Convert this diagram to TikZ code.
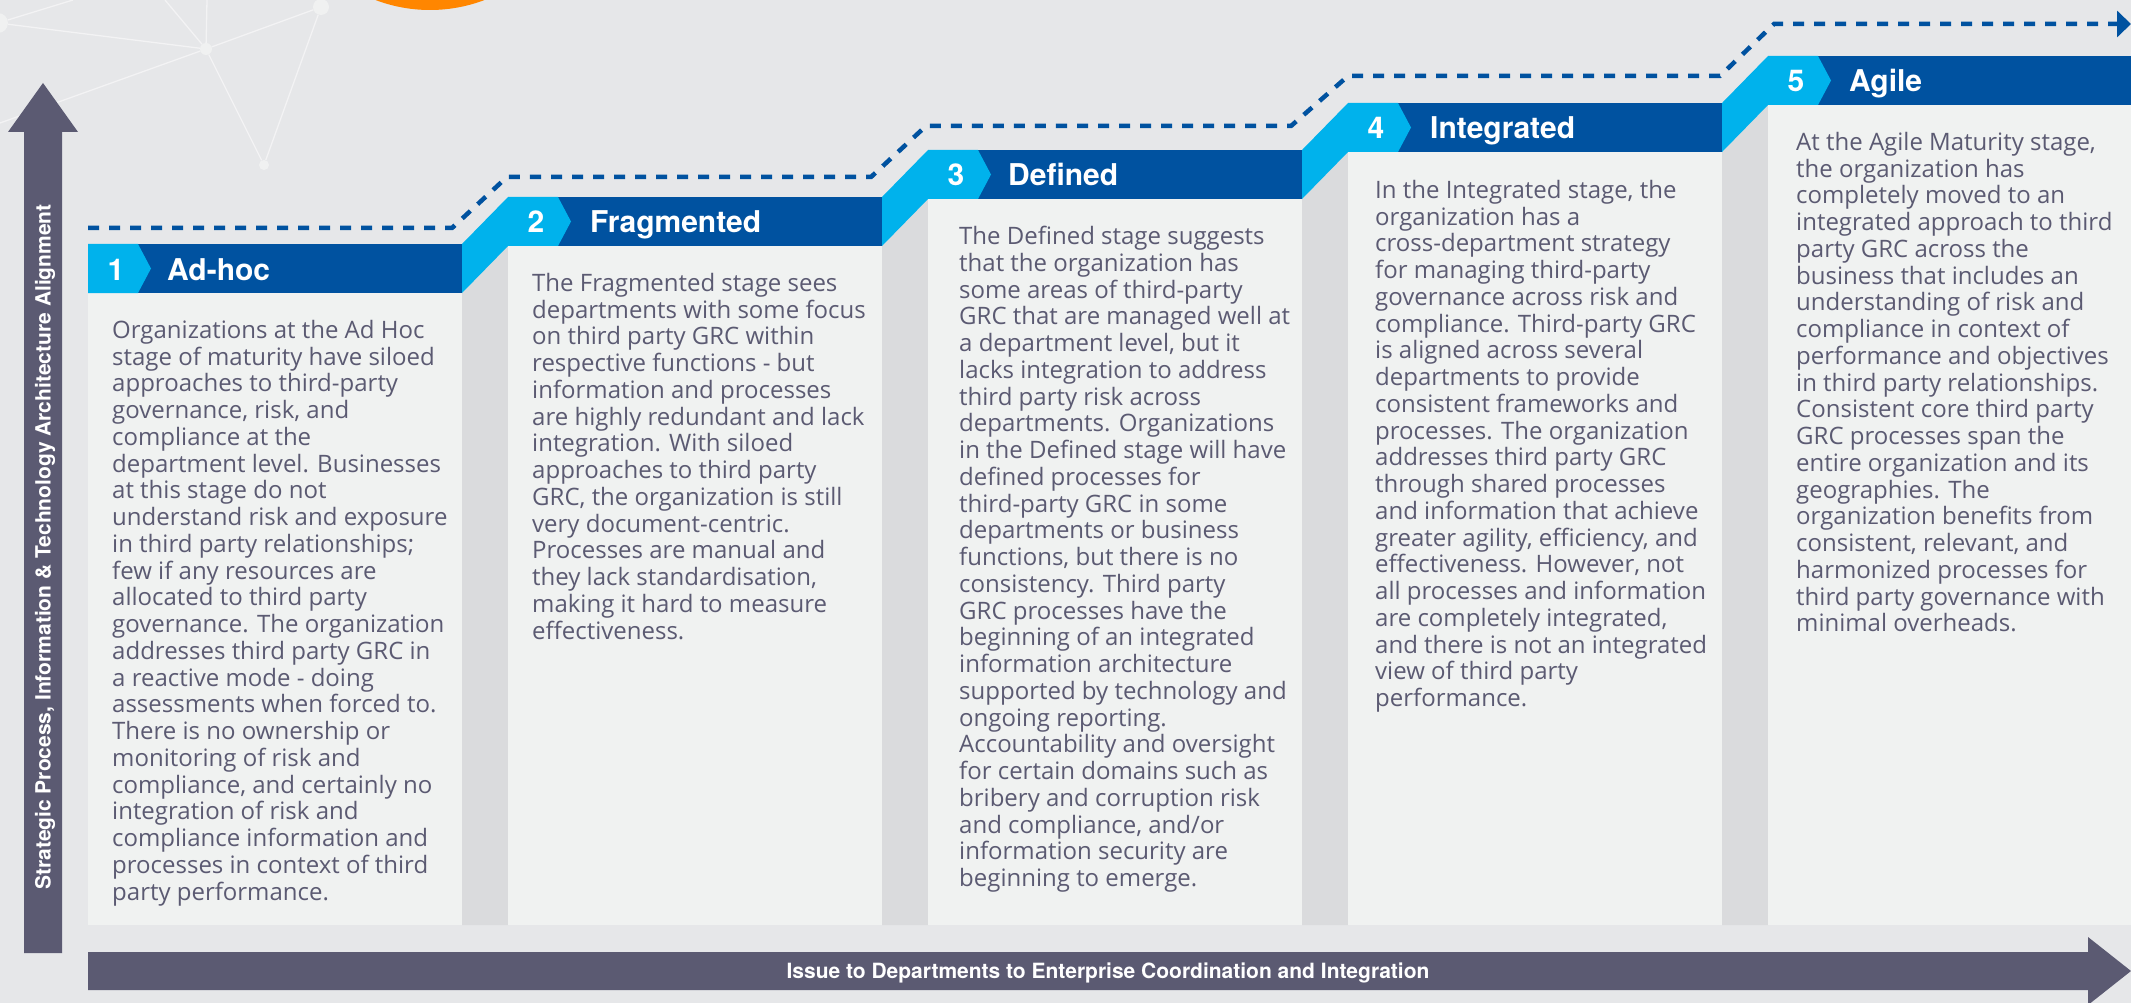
\documentclass[tikz,border=0pt]{standalone}
\usepackage{fontspec}
\setmainfont{Open Sans}
\newfontfamily\headfont{TeX Gyre Heros}
\usetikzlibrary{arrows.meta}

\definecolor{pagebg}{RGB}{230,231,233}
\definecolor{panelbg}{RGB}{240,242,241}
\definecolor{stripgray}{RGB}{218,219,221}
\definecolor{darkblue}{RGB}{0,82,160}
\definecolor{lightblue}{RGB}{0,178,236}
\definecolor{axisgray}{RGB}{91,90,114}
\definecolor{bodygray}{RGB}{91,90,114}
\definecolor{netline}{RGB}{243,243,244}
\definecolor{netdotc}{RGB}{240,241,241}
\definecolor{orangec}{RGB}{255,134,0}

\begin{document}
\begin{tikzpicture}[x=1pt,y=-1pt,
	panelbody/.style={fill=panelbg},
	sidestrip/.style={fill=stripgray},
	darkbar/.style={fill=darkblue},
	bluepart/.style={fill=lightblue},
	stagenum/.style={text=white,anchor=base,inner sep=0,font=\headfont\bfseries\fontsize{30}{30}\selectfont},
	stagename/.style={text=white,anchor=base west,inner sep=0,font=\headfont\bfseries\fontsize{30}{30}\selectfont},
	bodytext/.style={text=bodygray,anchor=north west,align=left,inner sep=0,font=\fontsize{24}{26.75}\selectfont},
	netedge/.style={draw=netline,line width=1.3pt},
	netdot/.style={circle,fill=netdotc,inner sep=0},
	axisarrow/.style={fill=axisgray},
	axislabel/.style={text=white,anchor=base,inner sep=0,font=\headfont\bfseries\fontsize{21}{21}\selectfont},
	trend/.style={draw=darkblue,line width=4.5pt,dash pattern=on 11pt off 10pt}
	]
		\useasboundingbox (0,0) rectangle (2131,1003);
		\clip (0,0) rectangle (2131,1003);
		\fill[pagebg] (0,0) rectangle (2131,1003);
		
		\fill[orangec] (430,-143) circle (153);
		
		\node[netdot,minimum size=20pt] (na) at (-2,23) {};
		\node[netdot,minimum size=12pt] (nb) at (206,49) {};
		\node[netdot,minimum size=16pt] (nc) at (321,7) {};
		\node[netdot,minimum size=10pt] (nd) at (264,165) {};
		\coordinate (ne) at (73,0);
		\coordinate (nf) at (165,0);
		\coordinate (ng) at (207,0);
		\coordinate (nh) at (0,123);
		\draw[netedge] (na) -- (nb);
		\draw[netedge] (na) -- (ne);
		\draw[netedge] (nb) -- (nf);
		\draw[netedge] (nb) -- (ng);
		\draw[netedge] (nb) -- (nc);
		\draw[netedge] (nb) -- (nd);
		\draw[netedge] (nc) -- (nd);
		\draw[netedge] (nb) -- (nh);
		
		\fill[panelbody] (88,293) rectangle (462,925);
		\fill[darkbar] (88,244) rectangle (462,293);
		\fill[bluepart] (88,244) -- (138,244) -- (151,268.5) -- (138,293) -- (88,293) -- cycle;
		\fill[sidestrip] (462,293) -- (508,246) -- (508,925) -- (462,925) -- cycle;
		\fill[bluepart] (462,244) -- (508,197) -- (508,246) -- (462,293) -- cycle;
		
		\fill[panelbody] (508,246) rectangle (882,925);
		\fill[darkbar] (508,197) rectangle (882,246);
		\fill[bluepart] (508,197) -- (558,197) -- (571,221.5) -- (558,246) -- (508,246) -- cycle;
		\fill[sidestrip] (882,246) -- (928,199) -- (928,925) -- (882,925) -- cycle;
		\fill[bluepart] (882,197) -- (928,150) -- (928,199) -- (882,246) -- cycle;
		
		\fill[panelbody] (928,199) rectangle (1302,925);
		\fill[darkbar] (928,150) rectangle (1302,199);
		\fill[bluepart] (928,150) -- (978,150) -- (991,174.5) -- (978,199) -- (928,199) -- cycle;
		\fill[sidestrip] (1302,199) -- (1348,152) -- (1348,925) -- (1302,925) -- cycle;
		\fill[bluepart] (1302,150) -- (1348,103) -- (1348,152) -- (1302,199) -- cycle;
		
		\fill[panelbody] (1348,152) rectangle (1722,925);
		\fill[darkbar] (1348,103) rectangle (1722,152);
		\fill[bluepart] (1348,103) -- (1398,103) -- (1411,127.5) -- (1398,152) -- (1348,152) -- cycle;
		\fill[sidestrip] (1722,152) -- (1768,105) -- (1768,925) -- (1722,925) -- cycle;
		\fill[bluepart] (1722,103) -- (1768,56) -- (1768,105) -- (1722,152) -- cycle;
		
		\fill[panelbody] (1768,105) rectangle (2131,925);
		\fill[darkbar] (1768,56) rectangle (2131,105);
		\fill[bluepart] (1768,56) -- (1818,56) -- (1831,80.5) -- (1818,105) -- (1768,105) -- cycle;
		
		\node[stagenum] (n1) at (116,280) {1};
		\node[stagename] (s1) at (167,280) {Ad-hoc};
		\node[stagenum] (n2) at (536,233) {2};
		\node[stagename] (s2) at (590,233) {Fragmented};
		\node[stagenum] (n3) at (956,186) {3};
		\node[stagename] (s3) at (1008,186) {Defined};
		\node[stagenum] (n4) at (1376,139) {4};
		\node[stagename] (s4) at (1430,139) {Integrated};
		\node[stagenum] (n5) at (1796,92) {5};
		\node[stagename] (s5) at (1849,92) {Agile};
		
		\draw[trend,-{Triangle[length=14pt,width=26pt]}] (88,228) -- (452,228) -- (507,177) -- (871,177) -- (926,126) -- (1291,126) -- (1348,76) -- (1720,76) -- (1774,24) -- (2131,24);
		
		\node[bodytext] (t1) at (112,320) {Organizations at the Ad Hoc\\stage of maturity have siloed\\approaches to third-party\\governance, risk, and\\compliance at the\\department level. Businesses\\at this stage do not\\understand risk and exposure\\in third party relationships;\\few if any resources are\\allocated to third party\\governance. The organization\\addresses third party GRC in\\a reactive mode - doing\\assessments when forced to.\\There is no ownership or\\monitoring of risk and\\compliance, and certainly no\\integration of risk and\\compliance information and\\processes in context of third\\party performance.};
		\node[bodytext] (t2) at (532,273) {The Fragmented stage sees\\departments with some focus\\on third party GRC within\\respective functions - but\\information and processes\\are highly redundant and lack\\integration. With siloed\\approaches to third party\\GRC, the organization is still\\very document-centric.\\Processes are manual and\\they lack standardisation,\\making it hard to measure\\effectiveness.};
		\node[bodytext] (t3) at (959,226) {The Defined stage suggests\\that the organization has\\some areas of third-party\\GRC that are managed well at\\a department level, but it\\lacks integration to address\\third party risk across\\departments. Organizations\\in the Defined stage will have\\defined processes for\\third-party GRC in some\\departments or business\\functions, but there is no\\consistency. Third party\\GRC processes have the\\beginning of an integrated\\information architecture\\supported by technology and\\ongoing reporting.\\Accountability and oversight\\for certain domains such as\\bribery and corruption risk\\and compliance, and/or\\information security are\\beginning to emerge.};
		\node[bodytext] (t4) at (1375,180) {In the Integrated stage, the\\organization has a\\cross-department strategy\\for managing third-party\\governance across risk and\\compliance. Third-party GRC\\is aligned across several\\departments to provide\\consistent frameworks and\\processes. The organization\\addresses third party GRC\\through shared processes\\and information that achieve\\greater agility, efficiency, and\\effectiveness. However, not\\all processes and information\\are completely integrated,\\and there is not an integrated\\view of third party\\performance.};
		\node[bodytext] (t5) at (1796,132) {At the Agile Maturity stage,\\the organization has\\completely moved to an\\integrated approach to third\\party GRC across the\\business that includes an\\understanding of risk and\\compliance in context of\\performance and objectives\\in third party relationships.\\Consistent core third party\\GRC processes span the\\entire organization and its\\geographies. The\\organization benefits from\\consistent, relevant, and\\harmonized processes for\\third party governance with\\minimal overheads.};
		
		\fill[axisarrow] (24,953) -- (24,132) -- (8,132) -- (43,83) -- (78,132) -- (62,132) -- (62,953) -- cycle;
		\node[axislabel,rotate=90] (vlabel) at (50.5,547) {Strategic Process, Information \& Technology Architecture Alignment};
		\fill[axisarrow] (88,952) -- (2088,952) -- (2088,937) -- (2131,971) -- (2088,1005) -- (2088,990) -- (88,990) -- cycle;
		\node[axislabel] (hlabel) at (1108,978.5) {Issue to Departments to Enterprise Coordination and Integration};
\end{tikzpicture}
\end{document}
